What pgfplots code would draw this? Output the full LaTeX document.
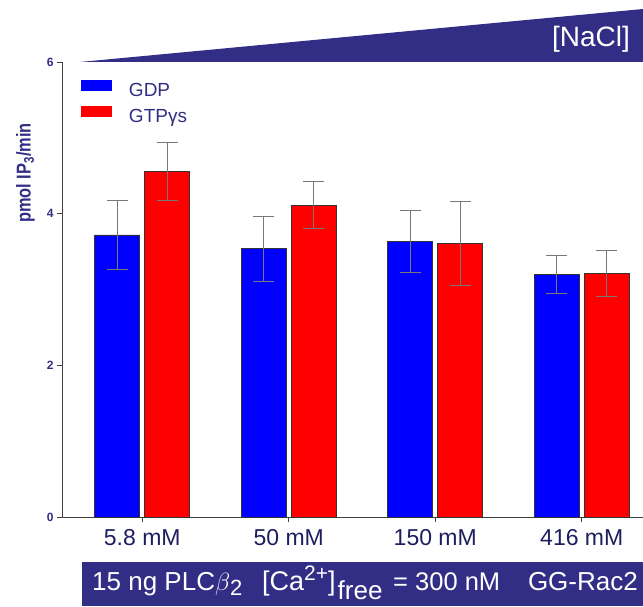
\documentclass[border=0pt]{standalone}
\usepackage{fontspec}
\setmainfont{Liberation Sans}
\usepackage{pgfplots}
\pgfplotsset{compat=1.18}
\definecolor{navy}{RGB}{51,46,133}
\definecolor{dnavy}{RGB}{30,30,95}
\definecolor{ebar}{RGB}{120,120,120}
\begin{document}
\begin{tikzpicture}[x=1pt,y=1pt]
\useasboundingbox (0pt,0pt) rectangle (643pt,606pt);
\fill[navy] (80pt,544pt) -- (643pt,597pt) -- (643pt,544pt) -- cycle;
\node[white, font=\fontsize{28}{28}\selectfont] at (591pt,567pt) {[NaCl]};
\fill[navy] (81.7pt,0pt) rectangle (643pt,44.3pt);
\begin{scope}[every node/.style={white, inner sep=0pt}]
\node[anchor=base west, font=\fontsize{26}{26}\selectfont] at (92pt,16pt)
 {15 ng PLC$\beta$\raisebox{-5pt}{\fontsize{22}{22}\selectfont 2}};
\node[anchor=base west, font=\fontsize{27}{27}\selectfont] at (262pt,16pt)
 {[Ca\raisebox{10pt}{\fontsize{21}{21}\selectfont 2+}]\hspace{2pt}\raisebox{-9pt}{\fontsize{26}{26}\selectfont free}};
\node[anchor=base west, font=\fontsize{25.5}{25.5}\selectfont] at (393pt,16pt) {= 300 nM};
\node[anchor=base east, font=\fontsize{26}{26}\selectfont] at (638pt,16pt) {GG-Rac2};
\end{scope}
\begin{axis}[
  at={(62pt,89pt)}, anchor=south west,
  scale only axis, width=581pt, height=455pt,
  xmin=-0.548, xmax=3.418, ymin=0, ymax=6,
  axis lines=left, axis line style={-, black!75, line width=0.8pt},
  ytick={0,2,4,6}, xtick={0,1,2,3},
  xticklabels={5.8 mM, 50 mM, 150 mM, 416 mM},
  tick align=outside, major tick length=5pt,
  tick style={black!75, line width=0.8pt},
  /pgf/number format/assume math mode=true,
  yticklabel style={font=\bfseries\fontsize{12}{12}\selectfont, text=navy},
  xticklabel style={font=\fontsize{23}{23}\selectfont, text=dnavy, yshift=-4pt},
  ybar=5pt, bar width=45pt,
  clip=false,
  legend style={draw=none, fill=none, at={(0.0327,0.961)}, anchor=north west,
    inner sep=0pt, outer sep=0pt, font=\fontsize{19}{19}\selectfont, text=navy,
    row sep=5pt, nodes={inner sep=0pt, text height=14pt, text depth=4pt},
    /tikz/every odd column/.append style={column sep=17pt}},
  legend cell align=left,
  legend image code/.code={\fill[#1,draw=none] (0pt,0.5pt) rectangle (31pt,12pt);},
]
\addplot[fill=blue, draw=black!80, line width=0.7pt,
  error bars/.cd, y dir=both, y explicit,
  error bar style={ebar, line width=0.7pt},
  error mark options={rotate=90, ebar, mark size=10.5pt, line width=0.7pt}]
  coordinates {(0,3.72) +- (0,0.45) (1,3.54) +- (0,0.43) (2,3.63) +- (0,0.41) (3,3.20) +- (0,0.25)};
\addplot[fill=red, draw=black!80, line width=0.7pt,
  error bars/.cd, y dir=both, y explicit,
  error bar style={ebar, line width=0.7pt},
  error mark options={rotate=90, ebar, mark size=10.5pt, line width=0.7pt}]
  coordinates {(0,4.56) +- (0,0.38) (1,4.11) +- (0,0.31) (2,3.61) +- (0,0.55) (3,3.21) +- (0,0.30)};
\legend{GDP, GTPγs}
\end{axis}
\node[rotate=90, text=navy, font=\bfseries\fontsize{20}{20}\selectfont] at (25.5pt,433pt) {\scalebox{0.82}[1]{pmol IP\textsubscript{3}/min}};
\end{tikzpicture}
\end{document}
